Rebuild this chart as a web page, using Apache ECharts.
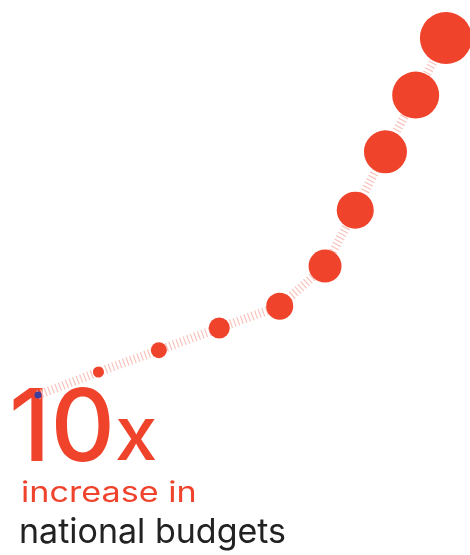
<!DOCTYPE html>
<html><head><meta charset="utf-8">
<script src="https://cdn.jsdelivr.net/npm/echarts@6/dist/echarts.min.js"></script>
<style>html,body{margin:0;padding:0;background:#fff}#c{width:470px;height:555px}</style>
</head><body><div id="c"></div>
<script>
// step positions (time-like units) and relative budget level (1 = start, 10 = 10x)
const steps = [0, 2, 4, 6, 8, 9.5, 10.5, 11.5, 12.5, 13.5];
const budgetLevel = [1, 1.58, 2.13, 2.69, 3.24, 4.25, 5.66, 7.13, 8.56, 10];
const dotSizes = [7, 11, 16, 21, 27, 33, 37, 43, 47, 52];
const headlineNumber = "10";
const headlineUnit = "x";
const subline1 = "increase in";
const subline2 = "national budgets";

const RED = "#f0432c";
const data = steps.map((s, i) => ({
  value: [s, budgetLevel[i]],
  symbolSize: dotSizes[i],
  itemStyle: { color: i === 0 ? "#3c3f9d" : RED, opacity: 1 }
}));

const chart = echarts.init(document.getElementById('c'), null, { renderer: 'canvas' });
chart.setOption({
  animation: false,
  backgroundColor: '#fff',
  grid: { left: 38, top: 38, width: 423, height: 357 },
  xAxis: { type: 'value', min: 0, max: 14, show: false },
  yAxis: { type: 'value', min: 1, max: 10, show: false },
  graphic: [
    { type: 'text', x: 9, y: 381, z: 1,
      style: {
        text: '{a|' + headlineNumber + '}{b|' + headlineUnit + '}',
        verticalAlign: 'top',
        rich: {
          a: { fill: RED, font: '500 100px Inter', verticalAlign: 'bottom' },
          b: { fill: RED, font: '500 76px Inter', verticalAlign: 'bottom', padding: [0, 0, 6, 0] }
        }
      } },
    { type: 'text', x: 21, y: 480, z: 1, scaleX: 1.22,
      style: { text: subline1, fill: RED, font: '400 28px Inter', verticalAlign: 'top' } },
    { type: 'text', x: 19, y: 516, z: 1,
      style: { text: subline2, fill: '#222', font: '400 34px Inter', verticalAlign: 'top' } }
  ],
  series: [
    { type: 'line', data: data.map(d => d.value), symbol: 'none', clip: false, z: 2,
      lineStyle: { color: '#f8c3bb', width: 9, type: [1.2, 2.6] } },
    { type: 'scatter', data: data, clip: false, z: 3 }
  ]
});
</script></body></html>
